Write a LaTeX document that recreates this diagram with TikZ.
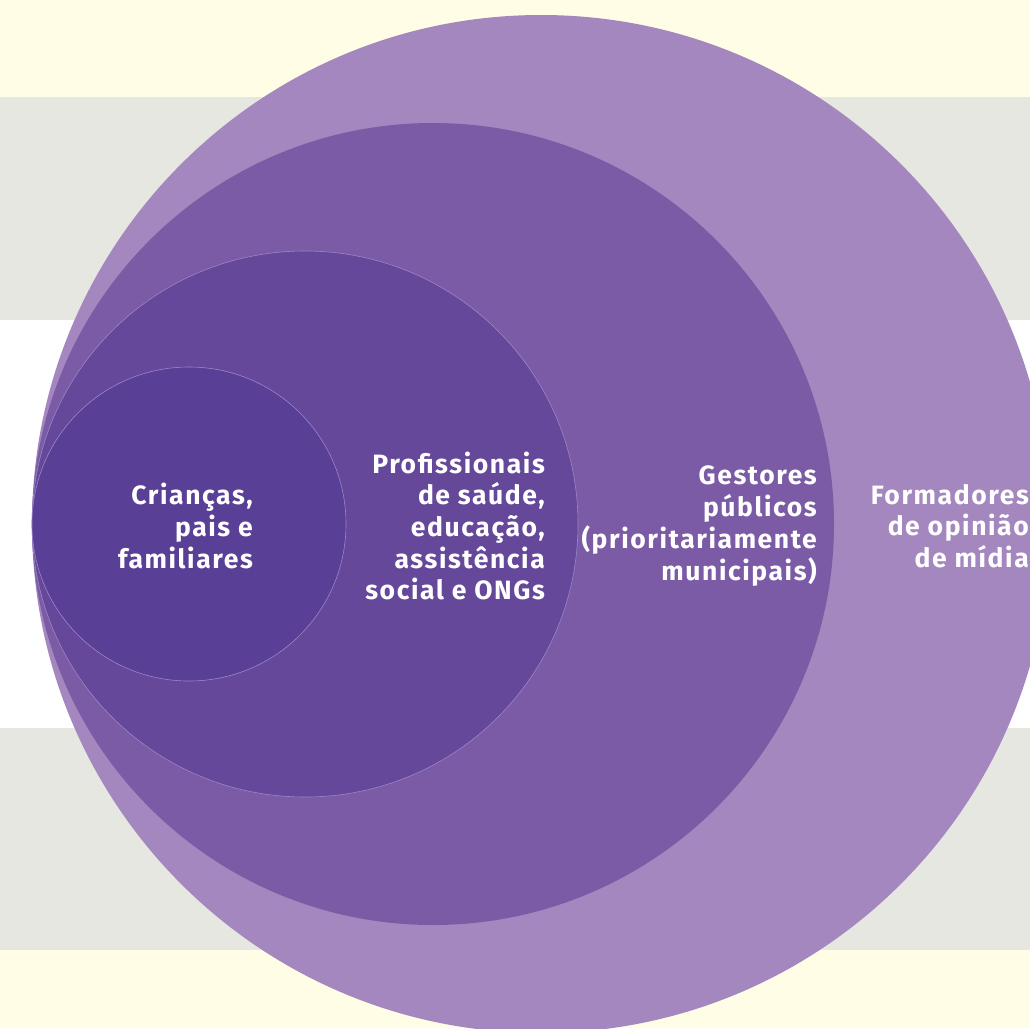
\documentclass[tikz,border=0pt]{standalone}
\usepackage{fontspec}
\setmainfont{Fira Sans}[LetterSpace=6]
\definecolor{bgyellow}{HTML}{FFFDE6}
\definecolor{bggray}{HTML}{E7E7E1}
\definecolor{cA}{HTML}{A387BE}
\definecolor{cB}{HTML}{7B5BA5}
\definecolor{cC}{HTML}{654899}
\definecolor{cD}{HTML}{5A3F96}
\definecolor{rim}{HTML}{9C86C8}
\begin{document}
\begin{tikzpicture}[x=1pt,y=-1pt,
  lbl/.style={text=white,align=right,anchor=east,inner sep=0pt,
    font=\fontsize{26.5}{31.7}\selectfont\bfseries}]
\useasboundingbox (0,0) rectangle (1030,1028);
\clip (0,0) rectangle (1030,1028);
\fill[bgyellow] (0,0) rectangle (1030,1028);
\fill[bggray] (0,97) rectangle (1030,320);
\fill[white] (0,320) rectangle (1030,728);
\fill[bggray] (0,728) rectangle (1030,950);
\fill[cA] (541,524) circle[radius=509];
\fill[cB] (433,524) circle[radius=401];
\filldraw[fill=cC,draw=rim,line width=0.6pt] (305,524) circle[radius=273];
\filldraw[fill=cD,draw=rim,line width=0.6pt] (189,524) circle[radius=157];
\node[lbl] (t1) at (253,526) {Crianças,\\pais e\\familiares};
\node[lbl] (t2) at (545,526) {Profissionais\\de saúde,\\educação,\\assistência\\social e ONGs};
\node[lbl] (t3) at (817,526) {Gestores\\públicos\\(prioritariamente\\municipais)};
\node[lbl] (t4) at (1029,526) {Formadores\\de opinião\\de mídia};
\end{tikzpicture}
\end{document}
